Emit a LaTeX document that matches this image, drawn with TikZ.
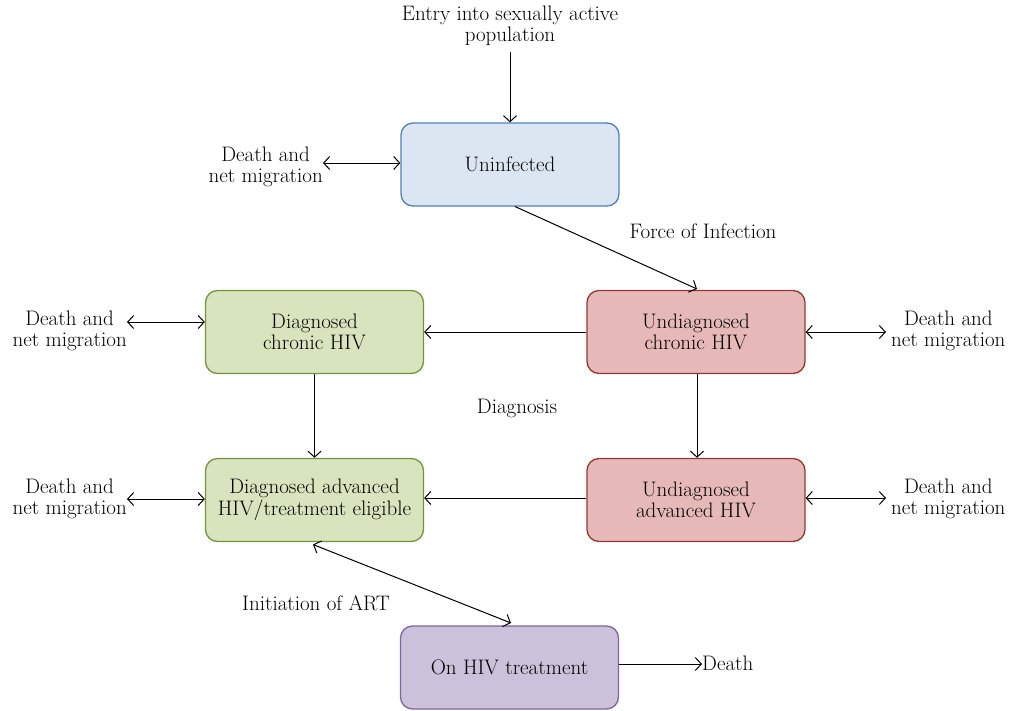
\documentclass[tikz,border=0pt]{standalone}
\usetikzlibrary{arrows.meta,calc}
\definecolor{blueF}{HTML}{DCE6F2}\definecolor{blueD}{HTML}{4F81BD}
\definecolor{greenF}{HTML}{D7E4BD}\definecolor{greenD}{HTML}{77933C}
\definecolor{redF}{HTML}{E6B9B8}\definecolor{redD}{HTML}{953735}
\definecolor{purpF}{HTML}{CCC1DA}\definecolor{purpD}{HTML}{8064A2}
\begin{document}
\begin{tikzpicture}[x=1pt,y=-1pt,
  every node/.style={font=\fontsize{21}{21.5}\selectfont, align=center, inner sep=0pt},
  box/.style={rounded corners=12pt, line width=1.3pt, minimum width=218pt, minimum height=83pt},
  bluebox/.style={box, fill=blueF, draw=blueD},
  greenbox/.style={box, fill=greenF, draw=greenD},
  redbox/.style={box, fill=redF, draw=redD},
  purpbox/.style={box, fill=purpF, draw=purpD},
  flow/.style={line width=1pt, -{Straight Barb[length=6pt,width=13pt,line width=1pt]}},
  dflow/.style={line width=1pt, {Straight Barb[length=6pt,width=13pt,line width=1pt]}-{Straight Barb[length=6pt,width=13pt,line width=1pt]}}]
\useasboundingbox (0,0) rectangle (1010,710);
\node[bluebox] (un) at (510,164.5) {Uninfected};
\node[greenbox] (dc) at (314.5,332) {Diagnosed\\chronic HIV};
\node[redbox] (uc) at (696,332) {Undiagnosed\\chronic HIV};
\node[greenbox] (da) at (314.5,500) {Diagnosed advanced\\HIV/treatment eligible};
\node[redbox] (ua) at (696,500) {Undiagnosed\\advanced HIV};
\node[purpbox] (tr) at (509.5,667.5) {On HIV treatment};

\node (entry) at (510,26) {Entry into sexually active\\population};
\node[anchor=east] (m0) at (323,167) {Death and\\net migration};
\node[anchor=east] (m1) at (127,331) {Death and\\net migration};
\node[anchor=east] (m2) at (127,499) {Death and\\net migration};
\node[anchor=west] (m3) at (891,331) {Death and\\net migration};
\node[anchor=west] (m4) at (891,499) {Death and\\net migration};
\node[anchor=west] (death) at (702,663) {Death};

\node (foi) at (703,231) {Force of Infection};
\node (diag) at (517,408) {Diagnosis};
\node (art) at (316,603) {Initiation of ART};

\coordinate (e0) at (510,52);
\draw[flow] (e0) -- (un.north);
\draw[dflow] (m0.east |- 0,163) -- (un.west |- 0,163);
\coordinate (uct) at (697,289);
\draw[flow] (515,206.5) -- (uct);
\draw[flow] (uc.west) -- (dc.east);
\draw[flow] (dc.south) -- (da.north);
\draw[flow] (uc.south -| 697,0) -- (ua.north -| 697,0);
\draw[flow] (ua.west |- 0,498) -- (da.east |- 0,498);
\draw[dflow] (m1.east |- 0,322) -- (dc.west |- 0,322);
\draw[dflow] (m2.east |- 0,499) -- (da.west |- 0,499);
\draw[dflow] (uc.east |- 0,332) -- ([xshift=-5pt]m3.west |- 0,332);
\draw[dflow] (ua.east |- 0,498) -- ([xshift=-5pt]m4.west |- 0,498);
\draw[dflow] (313,544.5) -- (511,623);
\draw[flow] (tr.east |- 0,664) -- (death.west |- 0,664);
\end{tikzpicture}
\end{document}
